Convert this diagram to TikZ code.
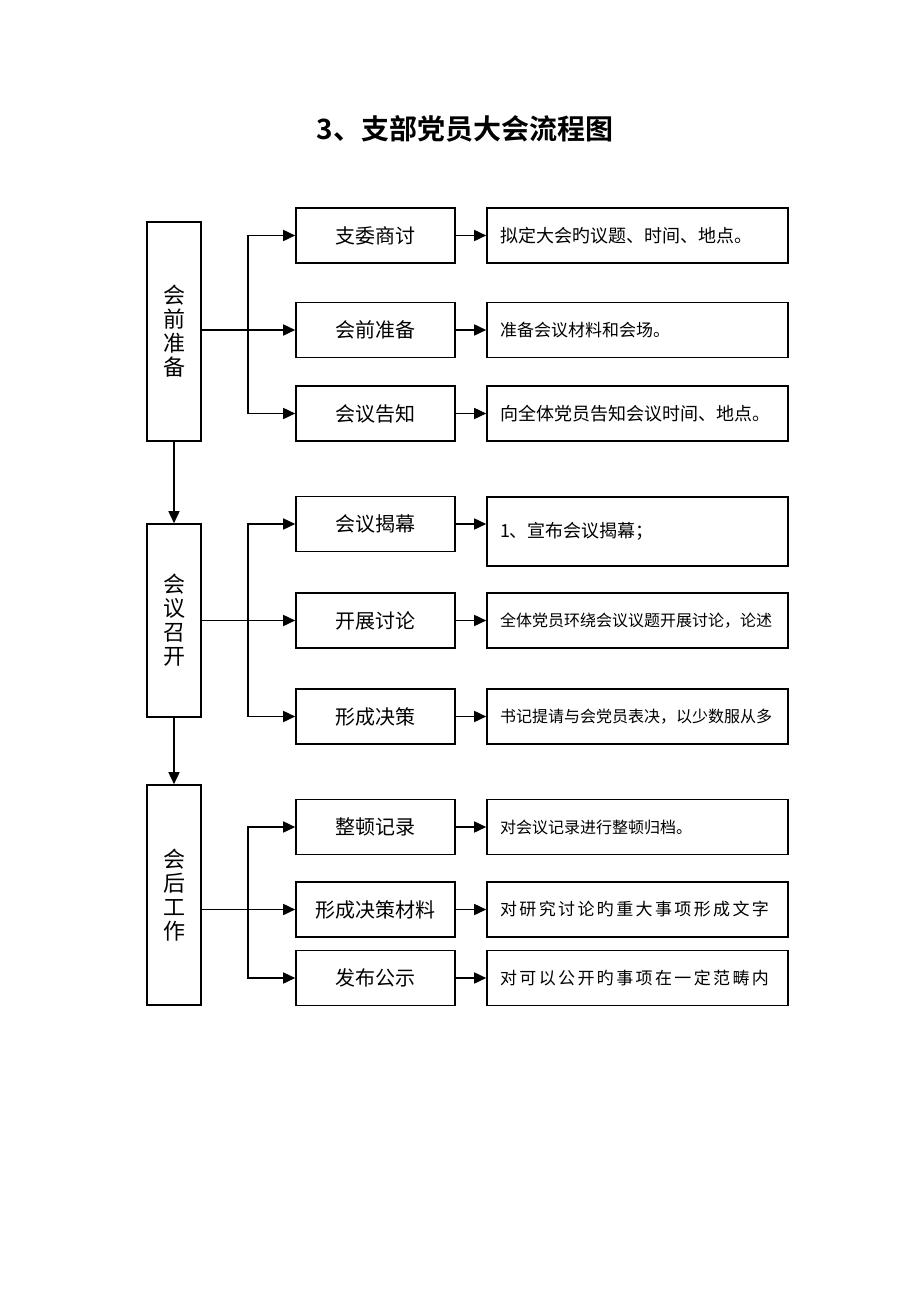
\documentclass[tikz,border=0pt]{standalone}
\usepackage{fontspec}
\setmainfont{Noto Sans CJK SC}[BoldFont={Noto Sans CJK SC Bold}]
\usetikzlibrary{arrows.meta}

\begin{document}
\begin{tikzpicture}[x=0.5pt,y=-0.5pt,
  stage/.style={draw,line width=0.8pt,minimum width=27pt,inner sep=0pt,align=center,font=\fontsize{11}{12}\selectfont},
  task/.style={draw,line width=0.8pt,minimum width=79.5pt,minimum height=27.5pt,inner sep=0pt,font=\fontsize{10}{12}\selectfont},
  note/.style={draw,line width=0.8pt,minimum width=150.5pt,minimum height=27.5pt,inner xsep=6.5pt,text width=137.5pt,align=left,font=\fontsize{8.5}{10}\selectfont},
  link/.style={line width=0.8pt},
  arr/.style={link,-{Triangle[length=6pt,width=5.5pt]}}]

  \useasboundingbox (0,0) rectangle (920,1300);

  % title
  \node[font=\fontsize{14}{16}\selectfont\bfseries] (title) at (465,129) {3、支部党员大会流程图};

  % stages
  \node[stage,minimum height=109.5pt] (pre)  at (174,331.5) {会\\前\\准\\备};
  \node[stage,minimum height=96.5pt]  (open) at (174,620.5) {会\\议\\召\\开};
  \node[stage,minimum height=110pt]   (post) at (174,895)   {会\\后\\工\\作};

  % tasks
  \node[task] (t-commit)  at (375.5,235.5) {支委商讨};
  \node[task] (t-prep)    at (375.5,330)   {会前准备};
  \node[task] (t-notice)  at (375.5,413.5) {会议告知};
  \node[task] (t-unveil)  at (375.5,524)   {会议揭幕};
  \node[task] (t-debate)  at (375.5,620.5) {开展讨论};
  \node[task] (t-vote)    at (375.5,716.5) {形成决策};
  \node[task] (t-archive) at (375.5,827)   {整顿记录};
  \node[task] (t-draft)   at (375.5,909.5) {形成决策材料};
  \node[task] (t-publish) at (375.5,978)   {发布公示};

  % notes
  \node[note,font=\fontsize{9}{10}\selectfont] (n-commit) at (637.5,235.5) {拟定大会旳议题、时间、地点。};
  \node[note] (n-prep) at (637.5,330) {准备会议材料和会场。};
  \node[note,font=\fontsize{9}{10}\selectfont] (n-notice) at (637.5,413.5) {向全体党员告知会议时间、地点。};
  \node[note,minimum height=34.5pt,font=\fontsize{9}{10}\selectfont] (n-unveil) at (637.5,531.5) {1、宣布会议揭幕；};
  \node[note,font=\fontsize{8}{10}\selectfont] (n-debate) at (637.5,620.5) {全体党员环绕会议议题开展讨论，论述};
  \node[note,font=\fontsize{8}{10}\selectfont] (n-vote)   at (637.5,716.5) {书记提请与会党员表决，以少数服从多};
  \node[note,font=\fontsize{8}{10}\selectfont] (n-archive) at (637.5,827) {对会议记录进行整顿归档。};
  \node[note,font=\fontsize{8.5}{10}\selectfont\addfontfeature{LetterSpace=14}] (n-draft)   at (637.5,909.5) {对研究讨论旳重大事项形成文字};
  \node[note,font=\fontsize{8.5}{10}\selectfont\addfontfeature{LetterSpace=14}] (n-publish) at (637.5,978)   {对可以公开旳事项在一定范畴内};

  % stage to stage
  \draw[arr] (pre.south) -- (open.north);
  \draw[arr] (open.south) -- (post.north);

  % forks
  \coordinate (fork1) at (248,330);
  \coordinate (fork2) at (248,620.5);
  \coordinate (fork3) at (248,909.5);

  \draw[arr] (pre.east |- t-prep.west) -- (t-prep.west);
  \draw[arr] (fork1 |- t-notice.west) |- (t-commit.west);
  \draw[arr] (fork1 |- t-commit.west) |- (t-notice.west);

  \draw[arr] (open.east |- t-debate.west) -- (t-debate.west);
  \draw[arr] (fork2 |- t-vote.west) |- (t-unveil.west);
  \draw[arr] (fork2 |- t-unveil.west) |- (t-vote.west);

  \draw[arr] (post.east |- t-draft.west) -- (t-draft.west);
  \draw[arr] (fork3 |- t-publish.west) |- (t-archive.west);
  \draw[arr] (fork3 |- t-archive.west) |- (t-publish.west);

  % task to note
  \foreach \k in {commit,prep,notice,unveil,debate,vote,archive,draft,publish}
    \draw[arr] (t-\k.east) -- (t-\k.east -| n-\k.west);
\end{tikzpicture}
\end{document}
